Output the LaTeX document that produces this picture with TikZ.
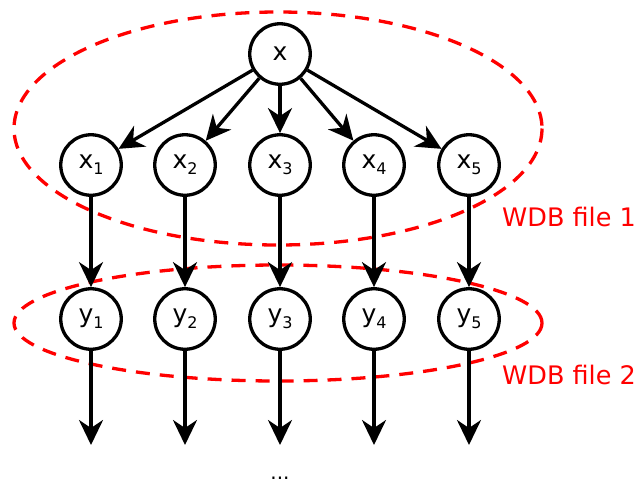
\documentclass[tikz,border=0pt]{standalone}
\usepackage{fontspec}
\setmainfont{DejaVu Sans}
\usetikzlibrary{arrows.meta}
\begin{document}
\begin{tikzpicture}[x=1pt,y=-1pt,
  var/.style={circle,draw,line width=3.3pt,minimum size=60.5pt,inner sep=0pt,font=\fontsize{25}{25}\selectfont},
  conn/.style={line width=3.3pt,-{Stealth[length=25pt,width=24pt,inset=8pt]}},
  group/.style={draw=red,line width=3.3pt,dash pattern=on 14pt off 10pt},
  lbl/.style={text=red,anchor=base west,inner sep=0pt,font=\fontsize{25.5}{25.5}\selectfont}]
\newcommand{\sbx}[2]{#1\raisebox{-6pt}{\fontsize{16}{16}\selectfont #2}}
\useasboundingbox (0,0) rectangle (637,483);
\draw[group] (278,128.5) ellipse [x radius=264, y radius=116.5];
\draw[group] (278,323) ellipse [x radius=264, y radius=58];
\node[var] (x) at (280,54) {x};
\foreach \i/\xx in {1/91,2/185,3/280,4/374,5/469}{
  \node[var] (x\i) at (\xx,165) {\sbx{x}{\i}};
  \node[var] (y\i) at (\xx,319) {\sbx{y}{\i}};
  \coordinate (e\i) at (\xx,445);
  \draw[conn] (x) -- (x\i);
  \draw[conn] (x\i) -- (y\i);
  \draw[conn] (y\i) -- (e\i);
}
\node[lbl] (l1) at (502,226) {WDB file 1};
\node[lbl] (l2) at (502,384) {WDB file 2};
\node[font=\fontsize{20}{20}\selectfont,anchor=base,inner sep=0pt] (dots) at (280,479) {...};
\end{tikzpicture}
\end{document}
